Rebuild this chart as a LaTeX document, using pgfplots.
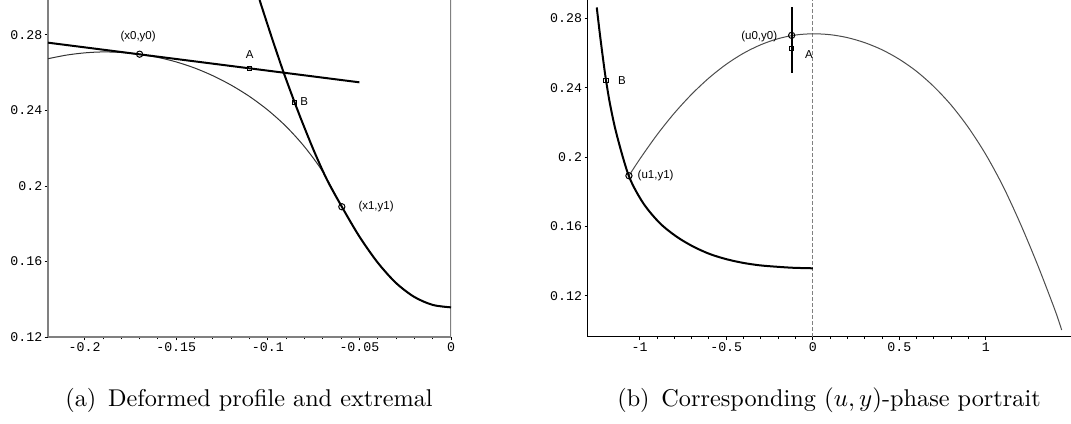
\documentclass[border=0pt]{standalone}
\usepackage{fontspec}
\usepackage{pgfplots}
\pgfplotsset{compat=1.18}
\newfontfamily\monofont{Liberation Mono}
\newfontfamily\labfont{Liberation Sans}
\newcommand{\tickfont}{\monofont\fontsize{5.3}{6}\selectfont}
\newcommand{\anfont}{\labfont\fontsize{4.6}{5.5}\selectfont}

\pgfplotsset{
  mapleaxis/.style={
    scale only axis,
    axis lines*=left,
    tick align=outside,
    major tick length=1.3pt,
    minor tick length=0.9pt,
    tick style={black,line width=0.35pt},
    xticklabel style={font=\tickfont,inner sep=0.8pt},
    yticklabel style={font=\tickfont,inner sep=0.8pt},
    clip=true,
  },
  thin curve/.style={black!80,line width=0.4pt,smooth,no marks},
  thick curve/.style={black,line width=0.8pt,smooth,no marks},
  circ/.style={only marks,mark=o,mark size=1.25pt,mark options={line width=0.4pt,black}},
  sq/.style={only marks,mark=square,mark size=0.9pt,mark options={line width=0.4pt,black}},
}

\begin{document}
\begin{tikzpicture}
\useasboundingbox (0,0) rectangle (428.4pt,169.2pt);

% (a) deformed profile and extremal
\begin{axis}[mapleaxis,
  at={(19.2pt,34.4pt)}, anchor=south west,
  width=161.2pt, height=134.8pt,
  xmin=-0.22, xmax=0, ymin=0.12, ymax=0.2985,
  xtick={-0.2,-0.15,-0.1,-0.05,0},
  xticklabels={-0.2,-0.15,-0.1,-0.05,0},
  minor x tick num=4,
  ytick={0.12,0.16,0.2,0.24,0.28},
  yticklabels={0.12,0.16,0.2,0.24,0.28},
  axis line style={gray,line width=0.5pt},
]
\draw[gray,line width=0.5pt] (rel axis cs:1,0) -- (rel axis cs:1,1);
% deformed profile
\addplot[thin curve] coordinates {
  (-0.22,0.2674) (-0.21,0.2693) (-0.20,0.2705) (-0.19,0.2710)
  (-0.18,0.2707) (-0.17,0.2697) (-0.16,0.2681) (-0.15,0.2657)
  (-0.14,0.2625) (-0.13,0.2584) (-0.12,0.2534) (-0.11,0.2474)
  (-0.10,0.2402) (-0.09,0.2315) (-0.08,0.2208) (-0.07,0.2075)
  (-0.0596,0.1890) (-0.05,0.1732) (-0.04,0.1594) (-0.03,0.1486)
  (-0.02,0.1412) (-0.01,0.1370) (0,0.1357)
};
% tangent line
\addplot[black,line width=0.8pt,no marks] coordinates {(-0.22,0.2759) (-0.05,0.2549)};
% extremal
\addplot[thick curve] coordinates {
  (-0.1045,0.2985) (-0.1004,0.2862) (-0.0968,0.2756) (-0.0914,0.2602)
  (-0.0850,0.2433) (-0.0823,0.2365) (-0.0750,0.2190) (-0.0677,0.2033)
  (-0.0596,0.1890) (-0.0500,0.1732) (-0.0400,0.1594) (-0.0300,0.1486)
  (-0.0200,0.1412) (-0.0100,0.1370) (0,0.1357)
};
\addplot[circ] coordinates {(-0.170,0.2698) (-0.0596,0.1890)};
\addplot[sq] coordinates {(-0.110,0.2622) (-0.0854,0.2441)};
\node[font=\anfont] at (axis cs:-0.1708,0.2791) {(x0,y0)};
\node[font=\anfont] at (axis cs:-0.1099,0.2698) {A};
\node[font=\anfont] at (axis cs:-0.0801,0.2446) {B};
\node[font=\anfont] at (axis cs:-0.0409,0.1890) {(x1,y1)};
\end{axis}

% (b) phase portrait
\begin{axis}[mapleaxis,
  at={(235.1pt,34.5pt)}, anchor=south west,
  width=193.3pt, height=134.7pt,
  xmin=-1.3, xmax=1.492, ymin=0.0963, ymax=0.2906,
  xtick={-1,-0.5,0,0.5,1},
  xticklabels={-1,-0.5,0,0.5,1},
  minor x tick num=4,
  ytick={0.12,0.16,0.2,0.24,0.28},
  yticklabels={0.12,0.16,0.2,0.24,0.28},
  axis line style={black,line width=0.45pt},
]
\addplot[gray,line width=0.35pt,dash pattern=on 1.6pt off 0.8pt,no marks]
  coordinates {(0,0.0963) (0,0.2906)};
% profile in phase plane
\addplot[black!70,line width=0.4pt,smooth,no marks] coordinates {
  (-1.062,0.1892) (-1.0,0.1987) (-0.9,0.2128) (-0.8,0.2253)
  (-0.7,0.2362) (-0.6,0.2456) (-0.5,0.2535) (-0.4,0.2599)
  (-0.3,0.2648) (-0.2,0.2683) (-0.1,0.2704) (0,0.2711)
  (0.1,0.2706) (0.2,0.2689) (0.3,0.2660) (0.4,0.2619)
  (0.5,0.2564) (0.6,0.2494) (0.7,0.2406) (0.8,0.2299)
  (0.9,0.2169) (1.0,0.2014) (1.1,0.1830) (1.2,0.1614)
  (1.3,0.1375) (1.4,0.1115) (1.438,0.1002)
};
% extremal in phase plane
\addplot[thick curve] coordinates {
  (-1.248,0.2863) (-1.229,0.2702) (-1.210,0.2554) (-1.196,0.2453)
  (-1.172,0.2309) (-1.133,0.2130) (-1.062,0.1889) (-0.979,0.1733)
  (-0.883,0.1618) (-0.786,0.1540) (-0.690,0.1483) (-0.594,0.1440)
  (-0.497,0.1410) (-0.401,0.1389) (-0.305,0.1375) (-0.209,0.1367)
  (-0.113,0.1361) (0,0.1358)
};
\addplot[black,line width=0.8pt,no marks] coordinates {(-0.122,0.2486) (-0.122,0.2867)};
\addplot[circ] coordinates {(-0.122,0.2702) (-1.062,0.1892)};
\addplot[sq] coordinates {(-0.122,0.2625) (-1.196,0.2442)};
\node[font=\anfont,anchor=east] at (axis cs:-0.155,0.2698) {(u0,y0)};
\node[font=\anfont] at (axis cs:-0.022,0.2594) {A};
\node[font=\anfont] at (axis cs:-1.102,0.2444) {B};
\node[font=\anfont] at (axis cs:-0.908,0.1892) {(u1,y1)};
\end{axis}

\node[anchor=base,font=\fontsize{9.7}{11}\selectfont] at (99.6pt,6.6pt)
  {(a)\hspace{4.7pt}Deformed profile and extremal};
\node[anchor=base,font=\fontsize{9.7}{11}\selectfont] at (331.6pt,6.6pt)
  {(b)\hspace{4.7pt}Corresponding $(u,y)$-phase portrait};
\end{tikzpicture}
\end{document}
